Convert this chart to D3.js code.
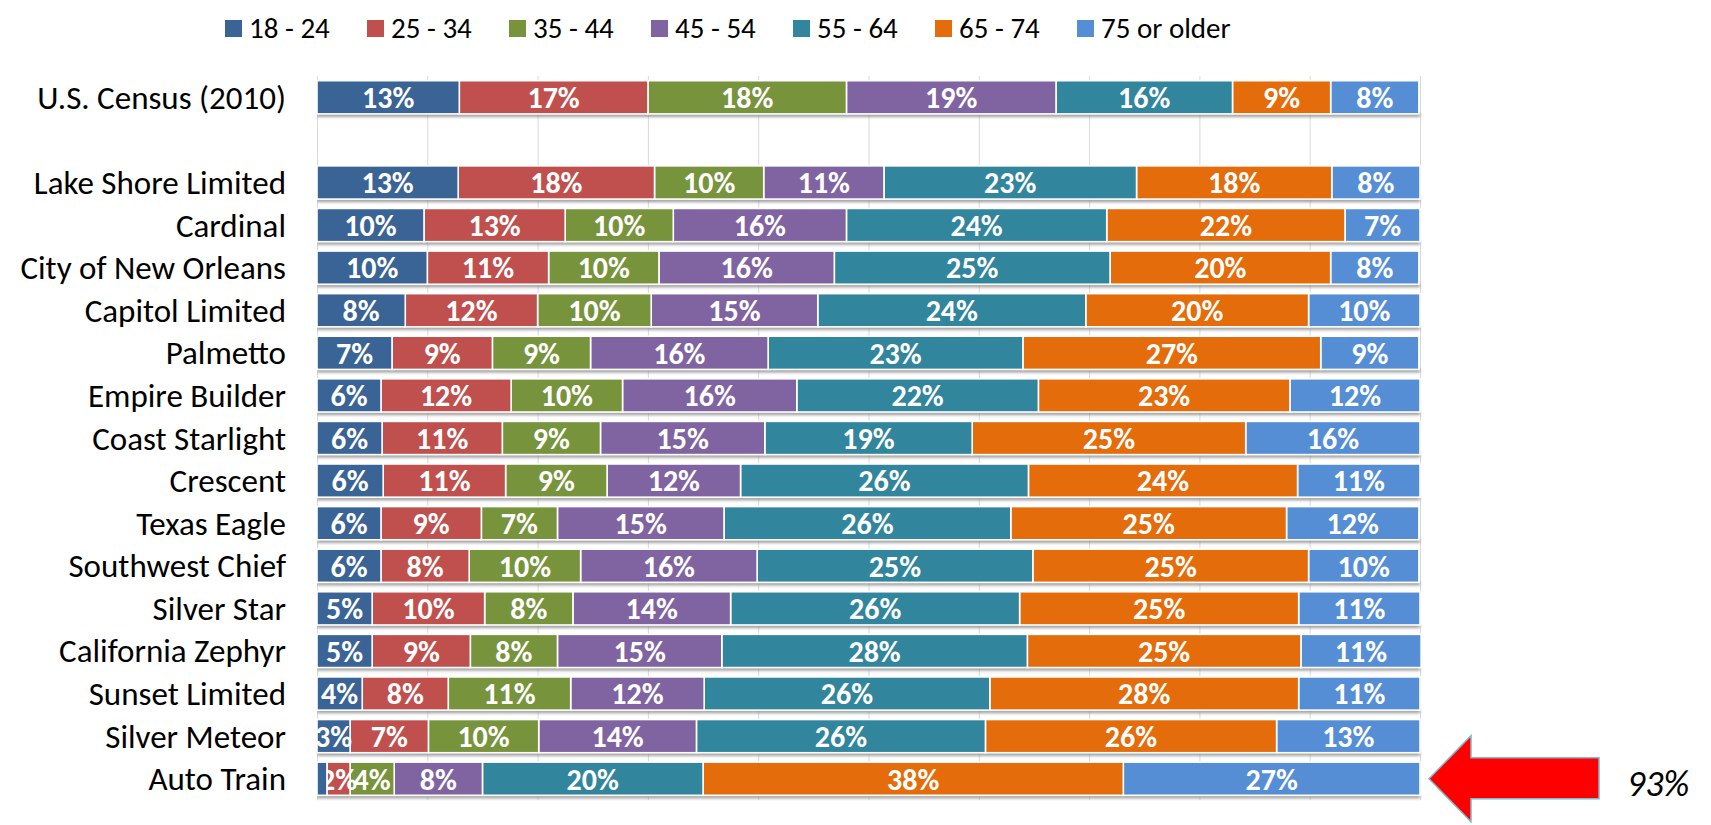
<!DOCTYPE html>
<html>
<head>
<meta charset="utf-8">
<script src="https://cdn.jsdelivr.net/npm/d3@7"></script>
<style>
  html, body { margin: 0; padding: 0; background: #fff; }
  svg { display: block; }
  .f { font-family: Carlito, "Liberation Sans Narrow", "Open Sans", sans-serif; }
</style>
</head>
<body>
<svg id="chart" width="1711" height="825"></svg>
<script>
// ---- data ----
const ageGroups = ["18 - 24", "25 - 34", "35 - 44", "45 - 54", "55 - 64", "65 - 74", "75 or older"];
const rows = ["U.S. Census (2010)", "", "Lake Shore Limited", "Cardinal", "City of New Orleans", "Capitol Limited",
  "Palmetto", "Empire Builder", "Coast Starlight", "Crescent", "Texas Eagle", "Southwest Chief",
  "Silver Star", "California Zephyr", "Sunset Limited", "Silver Meteor", "Auto Train"];
const age18_24 = [12.9, null, 12.8, 9.7, 10.0, 8.0, 6.8, 5.8, 5.9, 6.0, 5.8, 5.8, 5.0, 5.0, 4.1, 3.0, 0.9];
const age25_34 = [17.1, null, 17.8, 12.8, 11.0, 12.0, 9.1, 11.8, 10.9, 11.1, 9.1, 8.0, 10.2, 8.9, 7.8, 7.1, 2.1];
const age35_44 = [18.0, null, 9.9, 9.8, 10.0, 10.3, 8.9, 10.1, 8.9, 9.2, 6.9, 10.1, 8.0, 7.9, 11.1, 10.0, 4.0];
const age45_54 = [19.0, null, 10.9, 15.7, 15.9, 15.1, 16.1, 15.8, 14.9, 12.1, 15.1, 16.0, 14.3, 14.9, 12.1, 14.3, 8.0];
const age55_64 = [16.0, null, 22.9, 23.6, 25.0, 24.3, 23.1, 21.9, 18.8, 26.1, 26.0, 25.0, 26.2, 27.7, 25.9, 26.2, 20.0];
const age65_74 = [8.9, null, 17.7, 21.6, 20.0, 20.2, 27.0, 22.8, 24.8, 24.4, 25.0, 25.0, 25.3, 24.8, 28.0, 26.4, 38.1];
const age75up  = [8.0, null, 8.0, 6.8, 8.0, 10.1, 8.9, 11.8, 15.8, 11.1, 12.0, 10.0, 11.0, 10.9, 11.0, 13.0, 26.9];
const xTicks = [0, 10, 20, 30, 40, 50, 60, 70, 80, 90, 100];
const colors = ["#3A6396", "#C0504D", "#77933C", "#8064A2", "#31859C", "#E46C0A", "#558ED5"];
const highlight = { row: "Auto Train", text: "93%" };

// ---- build ----
const series = [age18_24, age25_34, age35_44, age45_54, age55_64, age65_74, age75up];
const table = rows.map((r, i) => {
  const o = { row: r };
  ageGroups.forEach((g, k) => o[g] = series[k][i] || 0);
  o.empty = series[0][i] === null;
  return o;
});
const stacked = d3.stack().keys(ageGroups)(table);

const svg = d3.select("#chart");
const pLeft = 317, pRight = 1420, pTop = 76, pBottom = 800;
const x = d3.scaleLinear().domain([0, 100]).range([pLeft, pRight]);
const y = d3.scaleBand().domain(d3.range(rows.length)).range([pTop, pBottom]).paddingInner(0.22).paddingOuter(0.11);

const defs = svg.append("defs");
defs.append("clipPath").attr("id", "plotclip").append("rect")
  .attr("x", pLeft).attr("y", pTop - 5).attr("width", pRight - pLeft + 2).attr("height", pBottom - pTop + 10);
defs.append("filter").attr("id", "blur").attr("x", "-5%").attr("y", "-100%").attr("width", "110%").attr("height", "300%")
  .append("feGaussianBlur").attr("stdDeviation", 1.4);

// gridlines
svg.append("g").selectAll("line").data(xTicks).join("line")
  .attr("x1", d => x(d) + 0.5).attr("x2", d => x(d) + 0.5)
  .attr("y1", pTop).attr("y2", pBottom)
  .attr("stroke", "#d9d9d9").attr("stroke-width", 1);

const plot = svg.append("g").attr("clip-path", "url(#plotclip)");

// shadows
plot.append("g").selectAll("rect").data(table.map((d, i) => ({ d, i })).filter(o => !o.d.empty)).join("rect")
  .attr("x", pLeft).attr("width", pRight - pLeft)
  .attr("y", o => y(o.i) + y.bandwidth() - 1).attr("height", 4)
  .attr("fill", "#8a8a8a").attr("opacity", 0.85).attr("filter", "url(#blur)");

// bars, drawn right-to-left per row so each bar covers the left overflow of the label to its right
table.forEach((d, i) => {
  if (d.empty) return;
  const g = plot.append("g");
  for (let k = ageGroups.length - 1; k >= 0; k--) {
    const seg = stacked[k][i];
    const v = seg[1] - seg[0];
    if (v <= 0) continue;
    g.append("rect")
      .attr("x", x(seg[0])).attr("width", x(seg[1]) - x(seg[0]))
      .attr("y", y(i)).attr("height", y.bandwidth())
      .attr("fill", colors[k]).attr("stroke", "#fff").attr("stroke-width", 1.6);
    if (v >= 1.5) {
      g.append("text").attr("class", "f")
        .attr("x", (x(seg[0]) + x(seg[1])) / 2).attr("y", y(i) + y.bandwidth() / 2)
        .attr("dy", "0.36em").attr("text-anchor", "middle")
        .attr("fill", "#fff").attr("font-weight", "bold").attr("font-size", 30)
        .text(d3.format(".0f")(v) + "%");
    }
  }
});

// category labels
svg.append("g").selectAll("text").data(table.map((d, i) => ({ d, i })).filter(o => !o.d.empty)).join("text")
  .attr("class", "f")
  .attr("x", pLeft - 31).attr("y", o => y(o.i) + y.bandwidth() / 2)
  .attr("dy", "0.35em").attr("text-anchor", "end")
  .attr("font-size", 33).attr("fill", "#000")
  .text(o => o.d.row);

// legend
const legend = svg.append("g").selectAll("g").data(ageGroups).join("g")
  .attr("transform", (d, k) => `translate(${225 + k * 142},28)`);
legend.append("rect").attr("x", 0).attr("y", -8).attr("width", 17).attr("height", 17)
  .attr("fill", (d, k) => colors[k]);
legend.append("text").attr("class", "f").attr("x", 24).attr("dy", "0.35em")
  .attr("font-size", 29).attr("fill", "#000").text(d => d);

// arrow annotation
const ai = rows.indexOf(highlight.row);
const cy = y(ai) + y.bandwidth() / 2;
const tipX = x(100) + 9;
const arrow = [[tipX, cy], [tipX + 42, cy - 43], [tipX + 42, cy - 21], [tipX + 170, cy - 21],
  [tipX + 170, cy + 20], [tipX + 42, cy + 20], [tipX + 42, cy + 43]];
svg.append("path").attr("d", d3.line()(arrow) + "Z")
  .attr("fill", "#FF0000").attr("stroke", "#7fb8cc").attr("stroke-width", 1.5);
svg.append("text").attr("class", "f")
  .attr("x", 1627).attr("y", cy + 17)
  .attr("font-size", 36).attr("font-style", "italic").attr("fill", "#000")
  .text(highlight.text);
</script>
</body>
</html>
